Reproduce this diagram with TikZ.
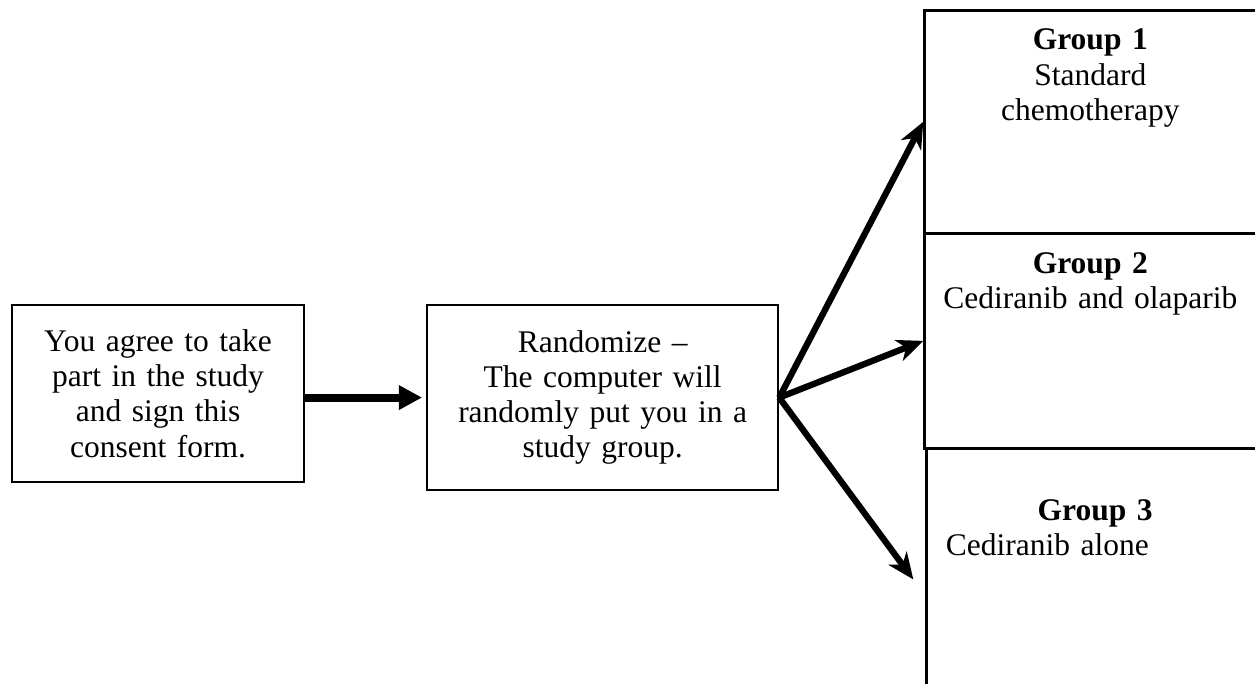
\documentclass[tikz,border=0pt]{standalone}
\usepackage{fontspec}
\setmainfont{Liberation Serif}
\usetikzlibrary{arrows.meta}

\begin{document}
\begin{tikzpicture}[
        every node/.style={font=\fontsize{12pt}{13.4pt}\selectfont},
        stepbox/.style={draw, line width=0.8pt, align=center, inner sep=0pt},
        groupbox/.style={draw, line width=1pt, anchor=north west, inner sep=0pt},
        grouptext/.style={text width=4.4cm, align=center, anchor=base, inner sep=0pt},
        fanarrow/.style={-{Stealth[length=10pt, width=8.5pt, inset=3pt]}, line width=2.4pt}
    ]
        \useasboundingbox (0,0) rectangle (16.80,9.145);
        \clip (0,0) rectangle (16.80,9.145);

        % Consent
        \node[stepbox, minimum width=3.91cm, minimum height=2.37cm, text width=3.6cm] (consent) at (2.116,3.876) {You agree to take\\part in the study\\and sign this\\consent form.};

        % Randomize
        \node[stepbox, minimum width=4.70cm, minimum height=2.477cm, text width=4.4cm] (random) at (8.067,3.823) {Randomize --\\The computer will\\randomly put you in a\\study group.};
        \draw[-{Triangle[length=8.8pt, width=8.8pt]}, line width=3pt, shorten >=1.5pt] (consent.east |- random.west) -- (random.west);

        % Groups
        \node[groupbox, minimum width=4.471cm, minimum height=2.986cm] (g1) at (12.359,9.025) {};
        \node[groupbox, minimum width=4.471cm, minimum height=2.879cm] (g2) at (12.359,6.039) {};
        \node[groupbox, minimum width=4.444cm, minimum height=3.508cm] (g3) at (12.386,3.160) {};
        \node[grouptext] (g1text) at (14.595,8.476) {\textbf{Group 1}\\Standard\\chemotherapy};
        \node[grouptext] (g2text) at (14.595,5.490) {\textbf{Group 2}\\Cediranib and olaparib};
        \node[grouptext, align=left, anchor=base west] (g3text) at (12.654,2.183) {\hspace*{35pt}\textbf{Group 3}\\Cediranib alone};

        % Fan out
        \draw[fanarrow] (random.east) -- (g1.west);
        \draw[fanarrow] (random.east) -- (g2.west);
        \draw[fanarrow] (random.east) -- ([xshift=-0.16cm]g3.west);
    \end{tikzpicture}
\end{document}
